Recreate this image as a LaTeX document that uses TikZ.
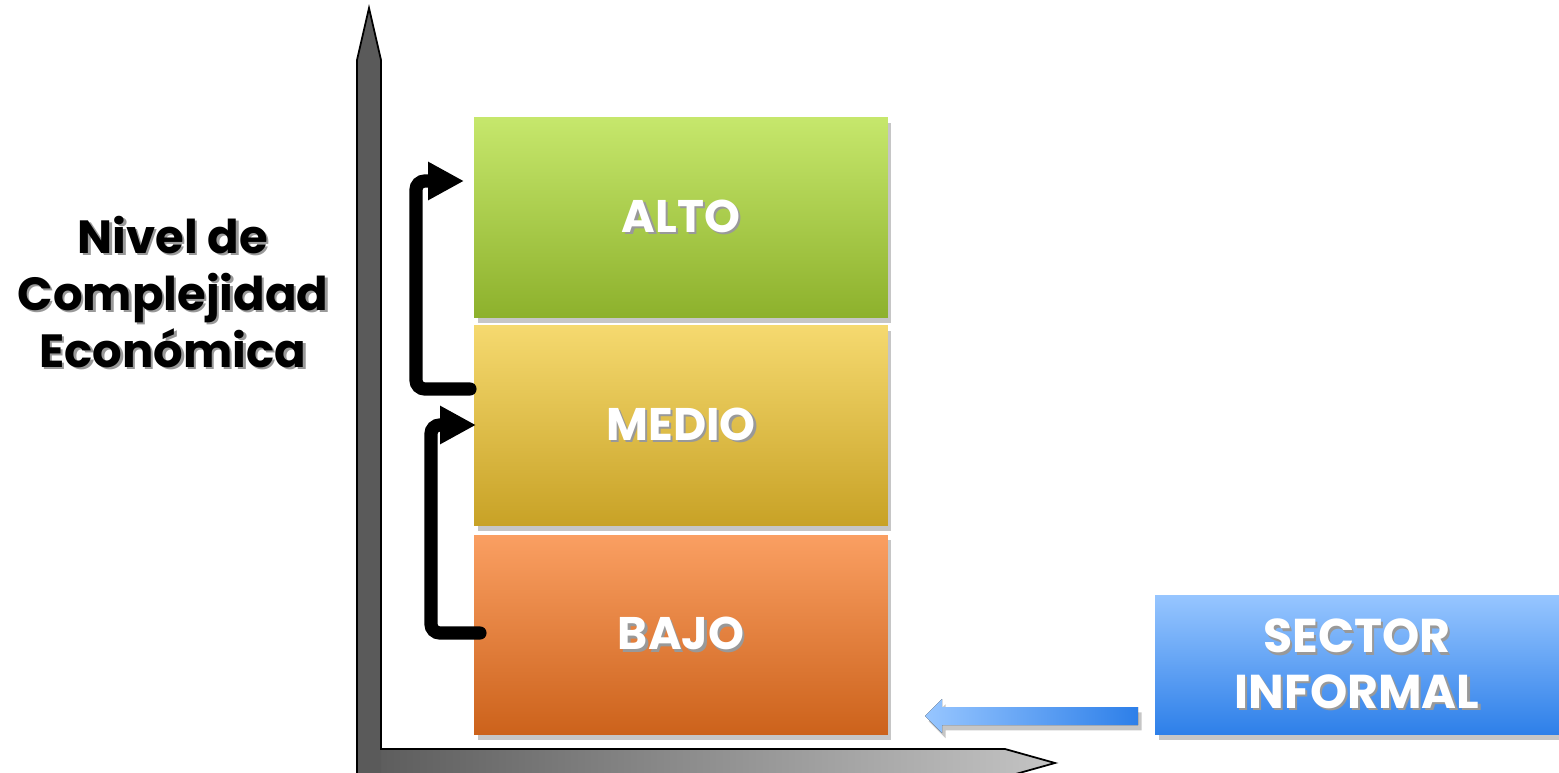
\documentclass[tikz,border=0pt]{standalone}
\usepackage{fontspec}
\setmainfont{Poppins}
\usetikzlibrary{arrows.meta,shadows,positioning}

\definecolor{altotop}{HTML}{C6E76C}
\definecolor{altobot}{HTML}{8DB12C}
\definecolor{mediotop}{HTML}{F5D96F}
\definecolor{mediobot}{HTML}{C8A226}
\definecolor{bajotop}{HTML}{FA9F62}
\definecolor{bajobot}{HTML}{CC621B}
\definecolor{sectop}{HTML}{97C6FF}
\definecolor{secbot}{HTML}{2D7FE9}
\definecolor{axisdark}{HTML}{5A5A5A}
\definecolor{axislight}{HTML}{C4C4C4}

% text with a soft grey shadow
\newcommand{\shtxt}[1]{\leavevmode\rlap{\kern1.3pt\raisebox{-1.3pt}{\color{black!40}#1}}#1}

\begin{document}
\begin{tikzpicture}[x=0.02cm, y=-0.02cm,
  levelbox/.style={minimum width=8.28cm, minimum height=4cm, inner sep=0pt,
    text=white, font=\bfseries\fontsize{26}{30}\selectfont,
    drop shadow={shadow xshift=2pt, shadow yshift=-3pt, opacity=.45}},
  steparrow/.style={line width=7.5pt, rounded corners=5pt, line cap=round,
    -{Triangle[length=0.72cm, width=0.72cm]}}]

\useasboundingbox (0,0) rectangle (1559,773);

% Axes
\fill[left color=axisdark, right color=axislight] (357,749) -- (1005,749) -- (1055,763) -- (1005,777) -- (357,777) -- cycle;
\fill[axisdark] (357,790) -- (357,60) -- (369,8) -- (381,60) -- (381,790) -- cycle;
\draw[line width=1pt, line join=miter] (357,790) -- (357,60) -- (369,8) -- (381,60) -- (381,749) -- (1005,749) -- (1055,763) -- (1005,777);

% Axis label
\node[font=\bfseries\fontsize{26.5}{32.5}\selectfont, align=center] (ylabel) at (173,293)
  {\shtxt{Nivel de}\\\shtxt{Complejidad}\\\shtxt{Económica}};

% Levels
\node[levelbox, top color=altotop, bottom color=altobot] (alto) at (681,217.5) {\shtxt{ALTO}};
\node[levelbox, top color=mediotop, bottom color=mediobot] (medio) at (681,425.5) {\shtxt{MEDIO}};
\node[levelbox, top color=bajotop, bottom color=bajobot] (bajo) at (681,635) {\shtxt{BAJO}};

% Steps up
\coordinate (s1) at (470,389);
\coordinate (e1) at (464,181);
\coordinate (s2) at (480,633);
\coordinate (e2) at (476,425);
\draw[steparrow] (s1) -- (416,389) -- (416,181) -- (e1);
\draw[steparrow] (s2) -- (431,633) -- (431,425) -- (e2);

% Informal sector
\node[minimum width=8.08cm, minimum height=2.8cm, inner sep=0pt, text=white,
  top color=sectop, bottom color=secbot, align=center,
  font=\bfseries\fontsize{27}{31.5}\selectfont,
  drop shadow={shadow xshift=2pt, shadow yshift=-3pt, opacity=.45}] (sector) at (1357,665)
  {\shtxt{SECTOR}\\\shtxt{INFORMAL}};

\fill[left color=sectop, right color=secbot,
  drop shadow={shadow xshift=2pt, shadow yshift=-3pt, opacity=.45}]
  (1138,707) -- (942,707) -- (942,699) -- (925,716) -- (942,733) -- (942,725) -- (1138,725) -- cycle;

\end{tikzpicture}
\end{document}
